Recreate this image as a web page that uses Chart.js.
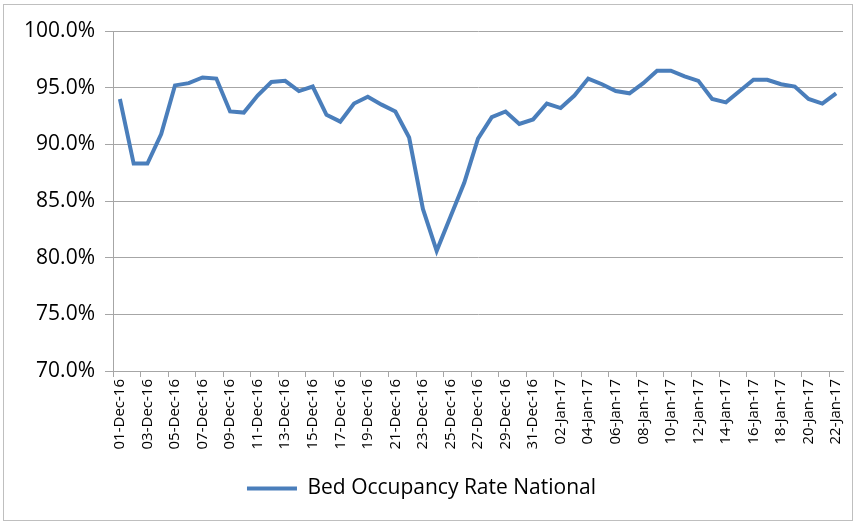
<!DOCTYPE html>
<html>
<head>
<meta charset="utf-8">
<script src="https://cdn.jsdelivr.net/npm/chart.js@4.4.0/dist/chart.umd.min.js"></script>
<style>
  body { margin: 0; background: #fff; }
  #wrap { width: 858px; height: 525px; position: relative; }
</style>
</head>
<body>
<div id="wrap"><canvas id="myChart"></canvas></div>
<script>
//categories: one per day, 01-Dec-16 to 22-Jan-17
var days = [];
for (var d = 1; d <= 31; d++) days.push((d < 10 ? '0' : '') + d + '-Dec-16');
for (var d = 1; d <= 22; d++) days.push((d < 10 ? '0' : '') + d + '-Jan-17');

//occupancy values in %
var occupancy = [
  94.0, 88.3, 88.3, 90.9, 95.2, 95.4, 95.9, 95.8, 92.9, 92.8,
  94.3, 95.5, 95.6, 94.7, 95.1, 92.6, 92.0, 93.6, 94.2, 93.5,
  92.9, 90.6, 84.3, 80.6, 83.6, 86.6, 90.5, 92.4, 92.9, 91.8,
  92.2, 93.6, 93.2, 94.3, 95.8, 95.3, 94.7, 94.5, 95.4, 96.5,
  96.5, 96.0, 95.6, 94.0, 93.7, 94.7, 95.7, 95.7, 95.3, 95.1,
  94.0, 93.6, 94.5
];

//y axis range and step
var yMin = 70, yMax = 100, yStep = 5;

var lineBlue = '#4a7ebb';
var gridGrey = '#a6a6a6';

//grey frame round the whole picture
var framePlugin = {
  id: 'frame',
  beforeDraw: function(chart) {
    var ctx = chart.ctx;
    ctx.save();
    ctx.fillStyle = '#fff';
    ctx.fillRect(0, 0, chart.width, chart.height);
    ctx.strokeStyle = '#bfbfbf';
    ctx.lineWidth = 1;
    ctx.strokeRect(3.5, 4.5, 849, 516);
    ctx.restore();
  }
};

var myCanvas = document.getElementById('myChart').getContext('2d');

var myLineChart = new Chart(myCanvas, {
  type: 'line',
  data: {
    labels: days,
    datasets: [{
      label: 'Bed Occupancy Rate National',
      data: occupancy,
      borderColor: lineBlue,
      backgroundColor: lineBlue,
      borderWidth: 4,
      pointRadius: 0,
      tension: 0,
      pointStyle: 'line'
    }]
  },
  plugins: [framePlugin],
  options: {
    responsive: true,
    maintainAspectRatio: false,
    animation: false,
    layout: { padding: { left: 0, right: 15, top: 31, bottom: 16 } },
    scales: {
      x: {
        offset: true,
        grid: {
          offset: true,
          drawOnChartArea: false,
          drawTicks: true,
          tickLength: 6,
          color: function(c) { return c.index % 2 === 0 ? gridGrey : 'rgba(0,0,0,0)'; }
        },
        border: { color: gridGrey, width: 1 },
        ticks: {
          autoSkip: false,
          maxRotation: 90,
          minRotation: 90,
          color: '#000',
          font: { family: 'Open Sans', size: 15 },
          padding: 2,
          callback: function(v, i) { return i % 2 === 0 ? days[i] : ''; }
        },
        afterFit: function(s) { s.height = 99; }
      },
      y: {
        min: yMin,
        max: yMax,
        ticks: {
          stepSize: yStep,
          color: '#000',
          font: { family: 'Open Sans', size: 21 },
          padding: 10,
          callback: function(v) { return v.toFixed(1) + '%'; }
        },
        grid: { color: gridGrey, tickLength: 8, lineWidth: 1 },
        border: { color: gridGrey, width: 1 },
        afterFit: function(s) { s.width = 113; }
      }
    },
    plugins: {
      legend: {
        position: 'bottom',
        labels: {
          usePointStyle: true,
          pointStyleWidth: 50,
          color: '#000',
          font: { family: 'Open Sans', size: 21 },
          padding: 8
        }
      },
      tooltip: { enabled: false }
    }
  }
});
</script>
</body>
</html>
